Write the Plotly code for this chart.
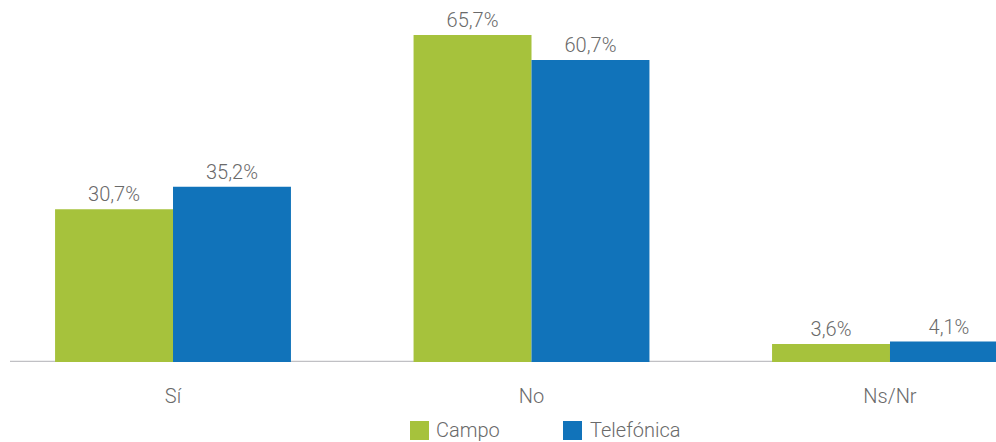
"""Grouped bar chart: Campo vs Telefónica."""
import plotly.graph_objects as go

categories = ["Sí", "No", "Ns/Nr"]
series_names = ["Campo", "Telefónica"]
campo = [30.7, 65.7, 3.6]
telefonica = [35.2, 60.7, 4.1]

GREEN = "#a6c23c"
BLUE = "#1173ba"
GREY_TEXT = "#6a6a6a"
FONT = "Roboto"
W, H = 996, 442
PLOT_H = 362  # plot area height in px (top margin 0)

fig = go.Figure()
for name, values, color in zip(series_names, [campo, telefonica], [GREEN, BLUE]):
    fig.add_trace(
        go.Bar(
            name=name,
            x=categories,
            y=values,
            marker=dict(color=color, line=dict(width=0)),
            texttemplate="%{y:.1f}%",
            textposition="outside",
            textfont=dict(family=FONT, size=20, color=GREY_TEXT, weight=300),
            cliponaxis=False,
            showlegend=False,
        )
    )


def px_x(v):
    return v / W


def px_y(v):
    return (PLOT_H - v) / PLOT_H


# baseline
fig.add_shape(
    type="line", xref="paper", yref="y",
    x0=px_x(10), x1=px_x(986), y0=0, y1=0,
    line=dict(color="#c0c0c4", width=2.5),
    layer="below",
)

# legend drawn by hand (square swatches like the original)
for (sx, tx), name, color in zip([(410, 434), (563, 588)], series_names, [GREEN, BLUE]):
    fig.add_shape(
        type="rect", xref="paper", yref="paper",
        x0=px_x(sx), x1=px_x(sx + 19), y0=px_y(421), y1=px_y(440),
        fillcolor=color, line=dict(width=0),
    )
    fig.add_annotation(
        xref="paper", yref="paper", x=px_x(tx), y=px_y(430),
        xanchor="left", yanchor="middle", showarrow=False,
        text=name, font=dict(family=FONT, size=20, color=GREY_TEXT, weight=300),
    )

fig.update_layout(
    width=W,
    height=H,
    margin=dict(l=0, r=0, t=0, b=H - PLOT_H, autoexpand=False),
    paper_bgcolor="white",
    plot_bgcolor="white",
    separators=",.",
    barmode="group",
    bargap=0.342,
    bargroupgap=0,
    showlegend=False,
    xaxis=dict(
        range=[-0.4826, 2.2957],
        showgrid=False,
        zeroline=False,
        showline=False,
        ticks="",
        ticklabelstandoff=20,
        tickfont=dict(family=FONT, size=20, color=GREY_TEXT, weight=300),
    ),
    yaxis=dict(range=[0, 72.73], visible=False),
)

fig.write_html(
    "out.html",
    config={"displayModeBar": False},
    post_script="document.body.style.margin='0';",
)
